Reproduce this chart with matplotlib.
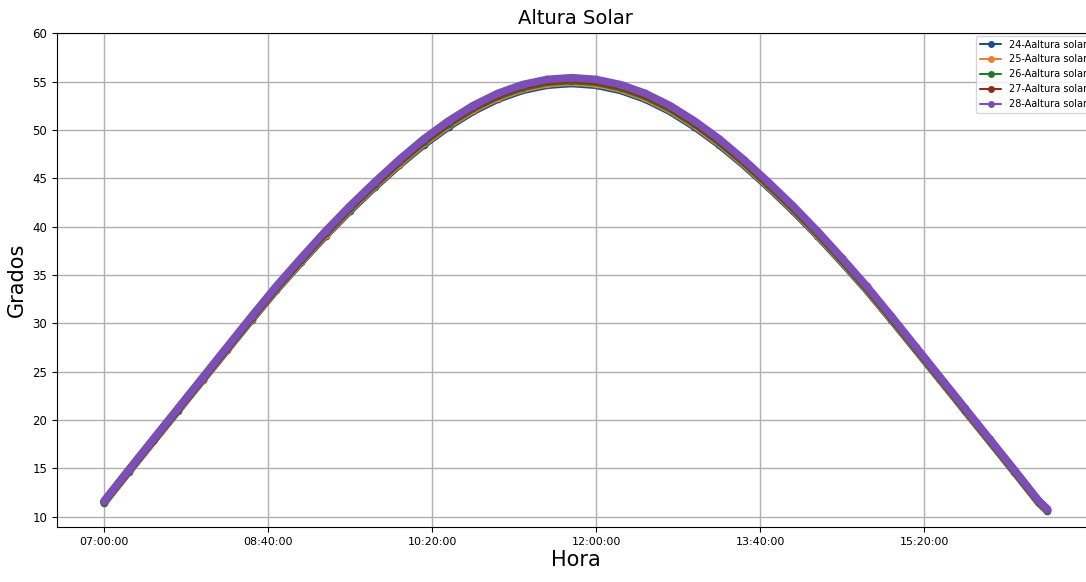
import matplotlib
matplotlib.use('Agg')
import matplotlib.pyplot as plt

horas = ["07:00", "07:15", "07:30", "07:45", "08:00", "08:15", "08:30", "08:45",
         "09:00", "09:15", "09:30", "09:45", "10:00", "10:15", "10:30", "10:45",
         "11:00", "11:15", "11:30", "11:45", "12:00", "12:15", "12:30", "12:45",
         "13:00", "13:15", "13:30", "13:45", "14:00", "14:15", "14:30", "14:45",
         "15:00", "15:15", "15:30", "15:45", "16:00", "16:15", "16:30", "16:35"]

dia24 = [11.45, 14.65, 17.81, 20.96, 24.12, 27.26, 30.39, 33.45, 36.30, 39.06,
         41.66, 44.09, 46.38, 48.48, 50.33, 51.92, 53.18, 54.08, 54.62, 54.80,
         54.62, 54.08, 53.18, 51.92, 50.33, 48.48, 46.38, 44.09, 41.66, 39.06,
         36.30, 33.45, 30.39, 27.26, 24.12, 20.96, 17.81, 14.65, 11.45, 10.65]
dia25 = [11.50, 14.71, 17.87, 21.03, 24.19, 27.34, 30.48, 33.55, 36.41, 39.18,
         41.79, 44.22, 46.52, 48.63, 50.48, 52.07, 53.33, 54.23, 54.77, 54.95,
         54.77, 54.23, 53.33, 52.07, 50.48, 48.63, 46.52, 44.22, 41.79, 39.18,
         36.41, 33.55, 30.48, 27.34, 24.19, 21.03, 17.87, 14.71, 11.50, 10.70]
dia26 = [11.55, 14.76, 17.93, 21.09, 24.26, 27.42, 30.57, 33.65, 36.52, 39.30,
         41.91, 44.35, 46.66, 48.78, 50.63, 52.22, 53.48, 54.38, 54.92, 55.10,
         54.92, 54.38, 53.48, 52.22, 50.63, 48.78, 46.66, 44.35, 41.91, 39.30,
         36.52, 33.65, 30.57, 27.42, 24.26, 21.09, 17.93, 14.76, 11.55, 10.75]
dia27 = [11.60, 14.82, 17.99, 21.16, 24.33, 27.50, 30.66, 33.75, 36.63, 39.42,
         42.04, 44.48, 46.80, 48.93, 50.78, 52.37, 53.63, 54.53, 55.07, 55.25,
         55.07, 54.53, 53.63, 52.37, 50.78, 48.93, 46.80, 44.48, 42.04, 39.42,
         36.63, 33.75, 30.66, 27.50, 24.33, 21.16, 17.99, 14.82, 11.60, 10.80]
dia28 = [11.65, 14.87, 18.05, 21.22, 24.40, 27.58, 30.75, 33.85, 36.74, 39.54,
         42.16, 44.61, 46.94, 49.08, 50.93, 52.52, 53.78, 54.68, 55.22, 55.40,
         55.22, 54.68, 53.78, 52.52, 50.93, 49.08, 46.94, 44.61, 42.16, 39.54,
         36.74, 33.85, 30.75, 27.58, 24.40, 21.22, 18.05, 14.87, 11.65, 10.85]

etiquetas = ["24-Aaltura solar", "25-Aaltura solar", "26-Aaltura solar",
             "27-Aaltura solar", "28-Aaltura solar"]
colores = ['#1f4e8c', '#e8812f', '#23782f', '#8c2d19', '#7b4fb5']
ticks_hora = ["07:00:00", "08:40:00", "10:20:00", "12:00:00", "13:40:00", "15:20:00"]

def a_minutos(h):
    hh, mm = h.split(':')[:2]
    return (int(hh) - 7) * 60 + int(mm)

x = [a_minutos(h) for h in horas]

fig = plt.figure(figsize=(10.86, 5.82), dpi=100)
ax = fig.add_axes([0.0525, 0.0945, 0.955, 0.8493])

for serie, lab, col in zip([dia24, dia25, dia26, dia27, dia28], etiquetas, colores):
    ax.plot(x, serie, color=col, marker='o', lw=5.5, ms=5.5, mew=0, label=lab,
            solid_capstyle='round', solid_joinstyle='round')

ax.set_xticks([a_minutos(t) for t in ticks_hora])
ax.set_xticklabels(ticks_hora, fontsize=8)
ax.set_yticks(range(10, 61, 5))
ax.tick_params(axis='y', labelsize=8.5)
ax.set_ylim(8.95, 60.05)
ax.grid(True, color='#b0b0b0', lw=1)
ax.set_title('Altura Solar', fontsize=14)
ax.set_xlabel('Hora', fontsize=15, labelpad=2)
ax.set_ylabel('Grados', fontsize=15)

leg = ax.legend(loc='upper right', fontsize=7, borderaxespad=0.3,
                handlelength=2.2, labelspacing=0.5)
for lh in leg.get_lines():
    lh.set_linewidth(1.5)
    lh.set_markersize(5)

fig.savefig('out.png', dpi=100)
